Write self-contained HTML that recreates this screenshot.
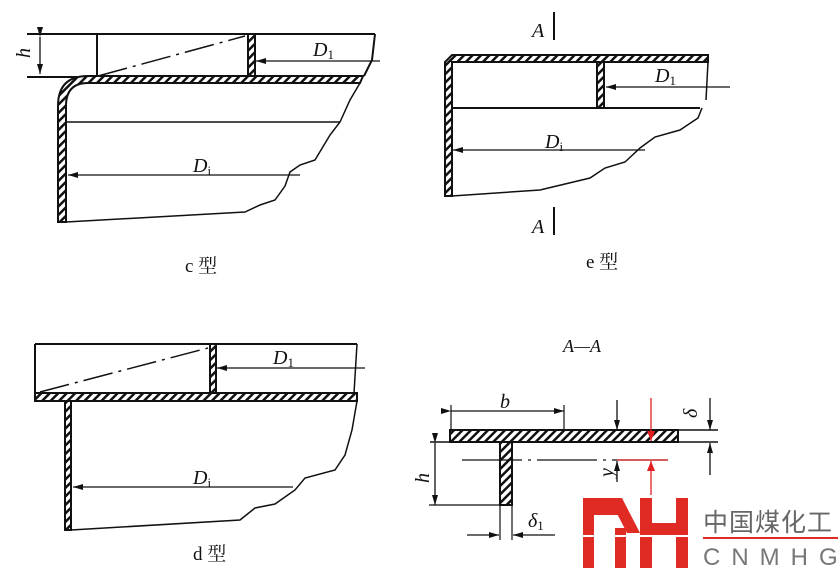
<!DOCTYPE html>
<html><head><meta charset="utf-8"><style>
html,body{margin:0;padding:0;background:#fff;width:839px;height:578px;overflow:hidden}
svg{display:block}
.t{font-family:"Liberation Serif","Noto Serif CJK SC",serif;font-style:italic;fill:#111}
.c{font-family:"Liberation Serif","Noto Serif CJK SC",serif;fill:#111}
</style></head><body>
<svg width="839" height="578" viewBox="0 0 839 578" xmlns="http://www.w3.org/2000/svg">
<defs>
<pattern id="h" width="6" height="6" patternUnits="userSpaceOnUse" patternTransform="rotate(45)">
<rect width="6" height="6" fill="#fff"/><rect width="2.5" height="6" fill="#111"/></pattern>
<marker id="a" markerWidth="10" markerHeight="6" refX="10" refY="3" orient="auto" markerUnits="userSpaceOnUse"><path d="M0,0L10,3L0,6z" fill="#111"/></marker>
<marker id="r" markerWidth="10" markerHeight="8" refX="10" refY="4" orient="auto" markerUnits="userSpaceOnUse"><path d="M0,0L10,4L0,8z" fill="#e02020"/></marker>
</defs>
<g stroke="#111" stroke-width="2" fill="none">
<line x1="27" y1="34" x2="375" y2="34"/>
<line x1="27" y1="77" x2="97" y2="77"/>
<line x1="97" y1="34" x2="97" y2="77"/>
<rect x="248" y="34" width="7" height="43" fill="url(#h)"/>
<line x1="98" y1="76" x2="245" y2="36" stroke-width="1.5" stroke-dasharray="30,6,3,6"/>
<line x1="380" y1="61" x2="256" y2="61" stroke-width="1.3" marker-end="url(#a)"/>
<path d="M375,34 L372,60 L364,76"/>
<path d="M363,76 L88,76 Q58,76 58,106 L58,222 L66,222 L66,106 Q66,83 88,83 L360,83 Z" fill="url(#h)"/>
<line x1="66" y1="122" x2="340" y2="122" stroke-width="1.5"/>
<line x1="300" y1="175" x2="68" y2="175" stroke-width="1.3" marker-end="url(#a)"/>
<path d="M66,222 L245,212 L260,205 L275,200 L285,186 L290,172 L300,165 L315,160 L330,135 L340,122 L350,100 L360,83" stroke-width="1.5"/>
<line x1="40" y1="37" x2="40" y2="74" stroke-width="1.3" marker-start="url(#a)" marker-end="url(#a)"/>
<line x1="554" y1="12" x2="554" y2="40"/>
<line x1="554" y1="207" x2="554" y2="235"/>
<path d="M452,55 L708,55 L708,62 L452,62 L452,196 L445,196 L445,62 Z" fill="url(#h)"/>
<line x1="452" y1="108" x2="700" y2="108"/>
<rect x="597" y="62" width="7" height="46" fill="url(#h)"/>
<line x1="730" y1="87" x2="606" y2="87" stroke-width="1.3" marker-end="url(#a)"/>
<line x1="708" y1="62" x2="706" y2="100" stroke-width="1.5"/>
<line x1="645" y1="150" x2="453" y2="150" stroke-width="1.3" marker-end="url(#a)"/>
<path d="M452,196 L540,190 L590,178 L605,168 L625,162 L640,148 L655,137 L680,130 L698,118 L702,108" stroke-width="1.5"/>
<line x1="35" y1="344" x2="357" y2="344"/>
<line x1="35" y1="344" x2="35" y2="393"/>
<rect x="35" y="393" width="322" height="8" fill="url(#h)"/>
<rect x="210" y="344" width="6" height="49" fill="url(#h)"/>
<line x1="40" y1="392" x2="208" y2="348" stroke-width="1.5" stroke-dasharray="30,6,3,6"/>
<line x1="365" y1="368" x2="217" y2="368" stroke-width="1.3" marker-end="url(#a)"/>
<line x1="357" y1="344" x2="354" y2="393" stroke-width="1.5"/>
<rect x="65" y="401" width="6" height="129" fill="url(#h)"/>
<line x1="293" y1="487" x2="73" y2="487" stroke-width="1.3" marker-end="url(#a)"/>
<path d="M71,530 L240,520 L255,508 L275,504 L295,490 L305,478 L335,470 L345,455 L352,430 L357,401" stroke-width="1.5"/>
<rect x="450" y="430" width="228" height="12" fill="url(#h)"/>
<line x1="678" y1="430" x2="718" y2="430" stroke-width="1.5"/>
<line x1="430" y1="442" x2="718" y2="442" stroke-width="1.5"/>
<rect x="500" y="442" width="12" height="63" fill="url(#h)"/>
<line x1="451" y1="405" x2="451" y2="430" stroke-width="1.2"/>
<line x1="564" y1="405" x2="564" y2="430" stroke-width="1.2"/>
<line x1="451" y1="411" x2="564" y2="411" stroke-width="1.3" marker-start="url(#a)" marker-end="url(#a)"/>
<line x1="429" y1="505" x2="500" y2="505" stroke-width="1.3"/>
<line x1="435" y1="443" x2="435" y2="505" stroke-width="1.3" marker-start="url(#a)" marker-end="url(#a)"/>
<line x1="462" y1="460" x2="668" y2="460" stroke-width="1.3" stroke-dasharray="60,6,3,6"/>
<line x1="617" y1="400" x2="617" y2="430" stroke-width="1.3" marker-end="url(#a)"/>
<line x1="617" y1="482" x2="617" y2="461" stroke-width="1.3" marker-end="url(#a)"/>
<line x1="710" y1="398" x2="710" y2="430" stroke-width="1.3" marker-end="url(#a)"/>
<line x1="710" y1="475" x2="710" y2="443" stroke-width="1.3" marker-end="url(#a)"/>
<line x1="500" y1="505" x2="500" y2="540" stroke-width="1.2"/>
<line x1="512" y1="505" x2="512" y2="540" stroke-width="1.2"/>
<line x1="467" y1="535" x2="499" y2="535" stroke-width="1.3" marker-end="url(#a)"/>
<line x1="555" y1="535" x2="513" y2="535" stroke-width="1.3" marker-end="url(#a)"/>
</g>
<g stroke="#e02020" stroke-width="1.3" fill="none">
<line x1="651" y1="398" x2="651" y2="441" marker-end="url(#r)"/>
<line x1="617" y1="460" x2="668" y2="460"/>
<line x1="651" y1="495" x2="651" y2="461" marker-end="url(#r)"/>
</g>
<g fill="#e02a24">
<rect x="583" y="498" width="11" height="70"/>
<rect x="583" y="498" width="38" height="17"/>
<polygon points="609,498 622,498 640,533 627,533"/>
<rect x="615" y="528" width="11" height="40"/>
<rect x="640" y="498" width="12" height="70"/>
<rect x="676" y="498" width="12" height="70"/>
<rect x="640" y="523" width="48" height="14"/>
</g>
<rect x="580" y="535" width="115" height="2" fill="#fff"/>
<text x="703" y="531" font-family="'Noto Sans CJK SC',sans-serif" font-size="25" fill="#666" letter-spacing="1">中国煤化工</text>
<rect x="703" y="537" width="135" height="2" fill="#e02a24"/>
<text x="703" y="565" font-family="'Liberation Sans',sans-serif" font-size="24" fill="#777" letter-spacing="11">CNMHG</text>
<text x="16" y="56" class="t" font-size="20" transform="rotate(-90 24 50)">h</text>
<text x="313" y="56" class="t" font-size="20">D<tspan font-style="normal" font-size="13" dy="3">1</tspan></text>
<text x="193" y="172" class="t" font-size="20">D<tspan font-style="normal" font-size="13" dy="3">i</tspan></text>
<text x="185" y="272" class="c" font-size="19">c 型</text>
<text x="532" y="37" class="t" font-size="20">A</text>
<text x="532" y="233" class="t" font-size="20">A</text>
<text x="655" y="82" class="t" font-size="20">D<tspan font-style="normal" font-size="13" dy="3">1</tspan></text>
<text x="545" y="148" class="t" font-size="20">D<tspan font-style="normal" font-size="13" dy="3">i</tspan></text>
<text x="586" y="268" class="c" font-size="19">e 型</text>
<text x="273" y="364" class="t" font-size="20">D<tspan font-style="normal" font-size="13" dy="3">1</tspan></text>
<text x="193" y="484" class="t" font-size="20">D<tspan font-style="normal" font-size="13" dy="3">i</tspan></text>
<text x="193" y="560" class="c" font-size="19">d 型</text>
<text x="563" y="352" class="t" font-size="18">A—A</text>
<text x="500" y="408" class="t" font-size="20">b</text>
<text x="412" y="478" class="t" font-size="20" transform="rotate(-90 423 472)">h</text>
<text x="601" y="475" class="t" font-size="20" transform="rotate(-90 608 470)">y</text>
<text x="684" y="415" class="t" font-size="20" transform="rotate(-90 692 410)">δ</text>
<text x="528" y="527" class="t" font-size="20">δ<tspan font-style="normal" font-size="13" dy="3">1</tspan></text>
</svg>
</body></html>
